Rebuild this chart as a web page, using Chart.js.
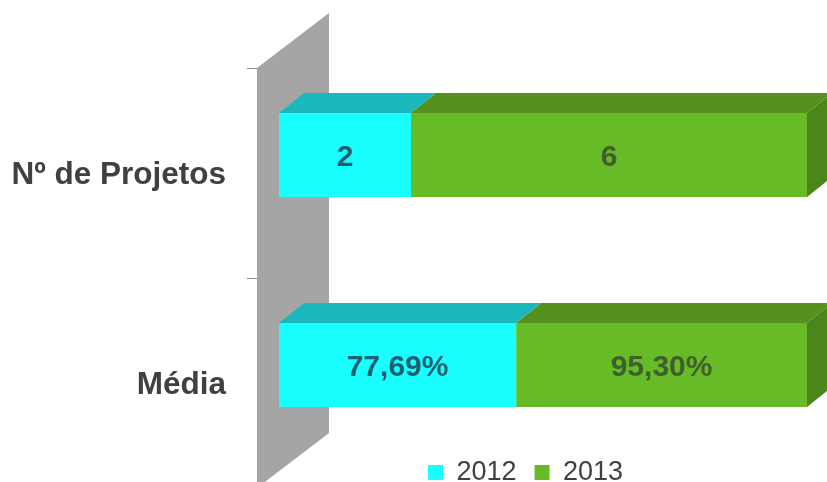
<!DOCTYPE html>
<html>
<head>
<meta charset="utf-8">
<style>
  html, body { margin: 0; padding: 0; background: #fff; }
  #wrap { width: 827px; height: 482px; overflow: hidden; }
</style>
<script src="https://cdn.jsdelivr.net/npm/chart.js@4"></script>
</head>
<body>
<div id="wrap"><canvas id="chart" width="827" height="482"></canvas></div>
<script>
var categories = ["Nº de Projetos", "Média"];
var seriesNames = ["2012", "2013"];
var values2012 = [2, 77.69];
var values2013 = [6, 95.30];
var labels2012 = ["2", "77,69%"];
var labels2013 = ["6", "95,30%"];

// bars are stacked to 100% of each category
var share2012 = [];
var share2013 = [];
for (var i = 0; i < categories.length; i++) {
  var total = values2012[i] + values2013[i];
  share2012.push(values2012[i] / total * 100);
  share2013.push(values2013[i] / total * 100);
}

var depthX = 25;
var depthY = 20;

function poly(ctx, pts, color) {
  ctx.fillStyle = color;
  ctx.beginPath();
  ctx.moveTo(pts[0][0], pts[0][1]);
  for (var p = 1; p < pts.length; p++) ctx.lineTo(pts[p][0], pts[p][1]);
  ctx.closePath();
  ctx.fill();
}

var box3d = {
  id: "box3d",
  // the legend sits over the lower part of the plot
  afterLayout: function (chart) {
    var lg = chart.legend;
    var h = lg.bottom - lg.top;
    lg.left = 410;
    lg.top = chart.chartArea.bottom - 29;
    lg.bottom = lg.top + h;
  },
  // grey back wall and its tick marks
  beforeDatasetsDraw: function (chart) {
    var ctx = chart.ctx;
    var a = chart.chartArea;
    var left = a.left - 22;
    var right = a.left + 50;
    poly(ctx, [
      [left, a.top + 18],
      [right, a.top - 37],
      [right, a.bottom - 37],
      [left, a.bottom + 18]
    ], "#a6a5a6");
    var band = (a.bottom - a.top) / categories.length;
    ctx.strokeStyle = "#8c8c8c";
    ctx.lineWidth = 1;
    for (var t = 0; t <= categories.length; t++) {
      var y = Math.round(a.top + 18 + band * t) + 0.5;
      ctx.beginPath();
      ctx.moveTo(left - 10, y);
      ctx.lineTo(left, y);
      ctx.stroke();
    }
  },
  // top and end faces of each bar, then the value labels
  afterDatasetsDraw: function (chart) {
    var ctx = chart.ctx;
    var topColors = ["#1ab8bc", "#56901f"];
    chart.data.datasets.forEach(function (ds, d) {
      chart.getDatasetMeta(d).data.forEach(function (bar) {
        var x0 = bar.base;
        var x1 = bar.x;
        var y0 = bar.y - bar.height / 2;
        var y1 = bar.y + bar.height / 2;
        poly(ctx, [
          [x0, y0],
          [x0 + depthX, y0 - depthY],
          [x1 + depthX, y0 - depthY],
          [x1, y0]
        ], topColors[d]);
        if (d == chart.data.datasets.length - 1) {
          poly(ctx, [
            [x1, y0],
            [x1 + depthX, y0 - depthY],
            [x1 + depthX, y1 - depthY],
            [x1, y1]
          ], "#4a861c");
        }
      });
    });
    var textColors = ["#1c6170", "#3f5f2c"];
    var texts = [labels2012, labels2013];
    ctx.font = "bold 30px 'Liberation Sans'";
    ctx.textAlign = "center";
    ctx.textBaseline = "middle";
    chart.data.datasets.forEach(function (ds, d) {
      chart.getDatasetMeta(d).data.forEach(function (bar, i) {
        ctx.fillStyle = textColors[d];
        ctx.fillText(texts[d][i], (bar.base + bar.x) / 2, bar.y + 3);
      });
    });
  }
};

var ctx1 = document.getElementById("chart");

var chart1 = new Chart(ctx1, {
  type: "bar",
  data: {
    labels: categories,
    datasets: [
      { label: seriesNames[0], data: share2012, backgroundColor: "#19ffff", borderWidth: 0 },
      { label: seriesNames[1], data: share2013, backgroundColor: "#66bb26", borderWidth: 0 }
    ]
  },
  options: {
    indexAxis: "y",
    responsive: false,
    animation: false,
    barPercentage: 0.4,
    categoryPercentage: 1,
    layout: { autoPadding: false, padding: { top: 50, right: 20, bottom: -43, left: 0 } },
    scales: {
      x: { display: false, stacked: true, min: 0, max: 100 },
      y: {
        stacked: true,
        grid: { display: false, tickLength: 53 },
        border: { display: false },
        afterFit: function (scale) {
          scale.width = 279;
          scale.paddingTop = 0;
          scale.paddingBottom = 0;
        },
        ticks: {
          padding: 0,
          labelOffset: 20,
          color: "#404040",
          font: { family: "Liberation Sans", size: 31.5, weight: "bold" }
        }
      }
    },
    plugins: {
      tooltip: { enabled: false },
      legend: {
        position: "bottom",
        align: "start",
        labels: {
          boxWidth: 15,
          boxHeight: 15,
          padding: 18,
          color: "#404040",
          font: { family: "Liberation Sans", size: 27 }
        }
      }
    }
  },
  plugins: [box3d]
});
</script>
</body>
</html>
